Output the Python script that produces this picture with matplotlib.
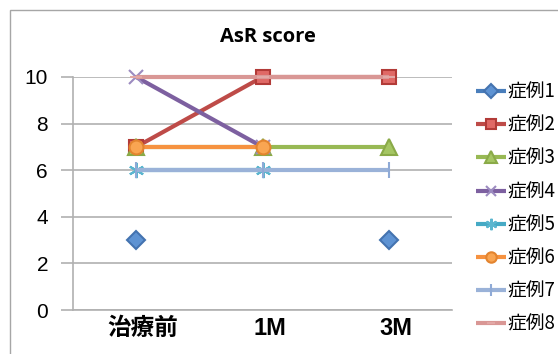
import numpy as np
import matplotlib
matplotlib.use("Agg")
import matplotlib.pyplot as plt
from matplotlib.patches import Rectangle
from matplotlib.transforms import ScaledTranslation

# --- data -------------------------------------------------------------
categories = ["治療前", "1M", "3M"]
series_names = ["症例1", "症例2", "症例3", "症例4", "症例5", "症例6", "症例7", "症例8"]
case1 = [3, np.nan, 3]
case2 = [7, 10, 10]
case3 = [7, 7, 7]
case4 = [10, 7, np.nan]
case5 = [6, 6, np.nan]
case6 = [7, 7, np.nan]
case7 = [6, 6, 6]
case8 = [10, 10, 10]
y_ticks = [0, 2, 4, 6, 8, 10]
title = "AsR score"

series_values = [case1, case2, case3, case4, case5, case6, case7, case8]

# line colour, marker, marker face, marker edge, marker size
styles = [
    ("#4A7EBB", "D", "#5E93D3", "#4473B0", 9),
    ("#BE4B48", "s", "#E06966", "#B23B38", 10),
    ("#98B954", "^", "#A5C663", "#8AAA48", 11),
    ("#7D60A0", "x", "#9079B3", "#9C8BC0", 10),
    ("#46AAC5", (6, 2, 0), "#5BB6CF", "#5BB6CF", 11),
    ("#F69240", "o", "#F9A552", "#E3842F", 10),
    ("#9AB2D8", "|", "#8FAAD6", "#8FAAD6", 12),
    ("#D99795", "_", "#E2A8A6", "#E2A8A6", 8),
]

fig = plt.figure(figsize=(5.58, 3.54), dpi=100)

# outer chart frame
fig.patches.append(Rectangle((10 / 558, -0.05), 1.0, 1 - 10 / 354 + 0.05,
                             transform=fig.transFigure, fill=False,
                             edgecolor="#A6A6A6", linewidth=1.0))

ax = fig.add_axes([73 / 558, 44 / 354, (452 - 73) / 558, (310 - 77) / 354])

x = np.arange(len(categories))
for name, vals, (lc, mk, mf, me, ms) in zip(series_names, series_values, styles):
    ax.plot(x, vals, color=lc, linewidth=3.0, marker=mk, markersize=ms,
            markerfacecolor=mf, markeredgecolor=me, markeredgewidth=1.5,
            label=name, solid_capstyle="butt", clip_on=False)

ax.set_xlim(-0.5, len(categories) - 0.5)
ax.set_ylim(0, 10)
ax.set_yticks(y_ticks)
ax.set_yticklabels([str(v) for v in y_ticks], fontsize=15,
                   family=["Liberation Sans", "DejaVu Sans"])
ax.set_xticks(x)
ax.set_xticklabels(categories, fontsize=17, fontweight="bold",
                   family=["Liberation Sans", "Noto Sans CJK JP", "DejaVu Sans"])

grid_c = "#B0B0B0"
ax.yaxis.grid(True, color=grid_c, linewidth=1.2)
ax.set_axisbelow(True)
ax.tick_params(axis="y", length=9, width=1.2, color=grid_c, pad=9)
ax.tick_params(axis="x", length=0, pad=5)
for s in ("top", "right"):
    ax.spines[s].set_visible(False)
for s in ("left", "bottom"):
    ax.spines[s].set_color(grid_c)
    ax.spines[s].set_linewidth(1.2)

fig.text(268 / 558, 1 - 42 / 354, title, ha="center", va="baseline",
         fontsize=14.5, fontweight="bold", family=["Open Sans", "DejaVu Sans"])

fig.legend(loc="upper left", bbox_to_anchor=(468 / 558, 1 - 74 / 354),
           frameon=False, numpoints=1, handlelength=1.6, handletextpad=0.1,
           labelspacing=0.65, borderaxespad=0, markerscale=0.75,
           prop={"family": ["Noto Sans CJK JP", "DejaVu Sans"], "size": 13.5})

# nudge category labels slightly right of their tick positions
fig.canvas.draw()
shift = ScaledTranslation(7 / 100, 0, fig.dpi_scale_trans)
for tick in ax.xaxis.get_major_ticks():
    tick.label1.set_transform(tick.label1.get_transform() + shift)

fig.savefig("out.png", dpi=100)
